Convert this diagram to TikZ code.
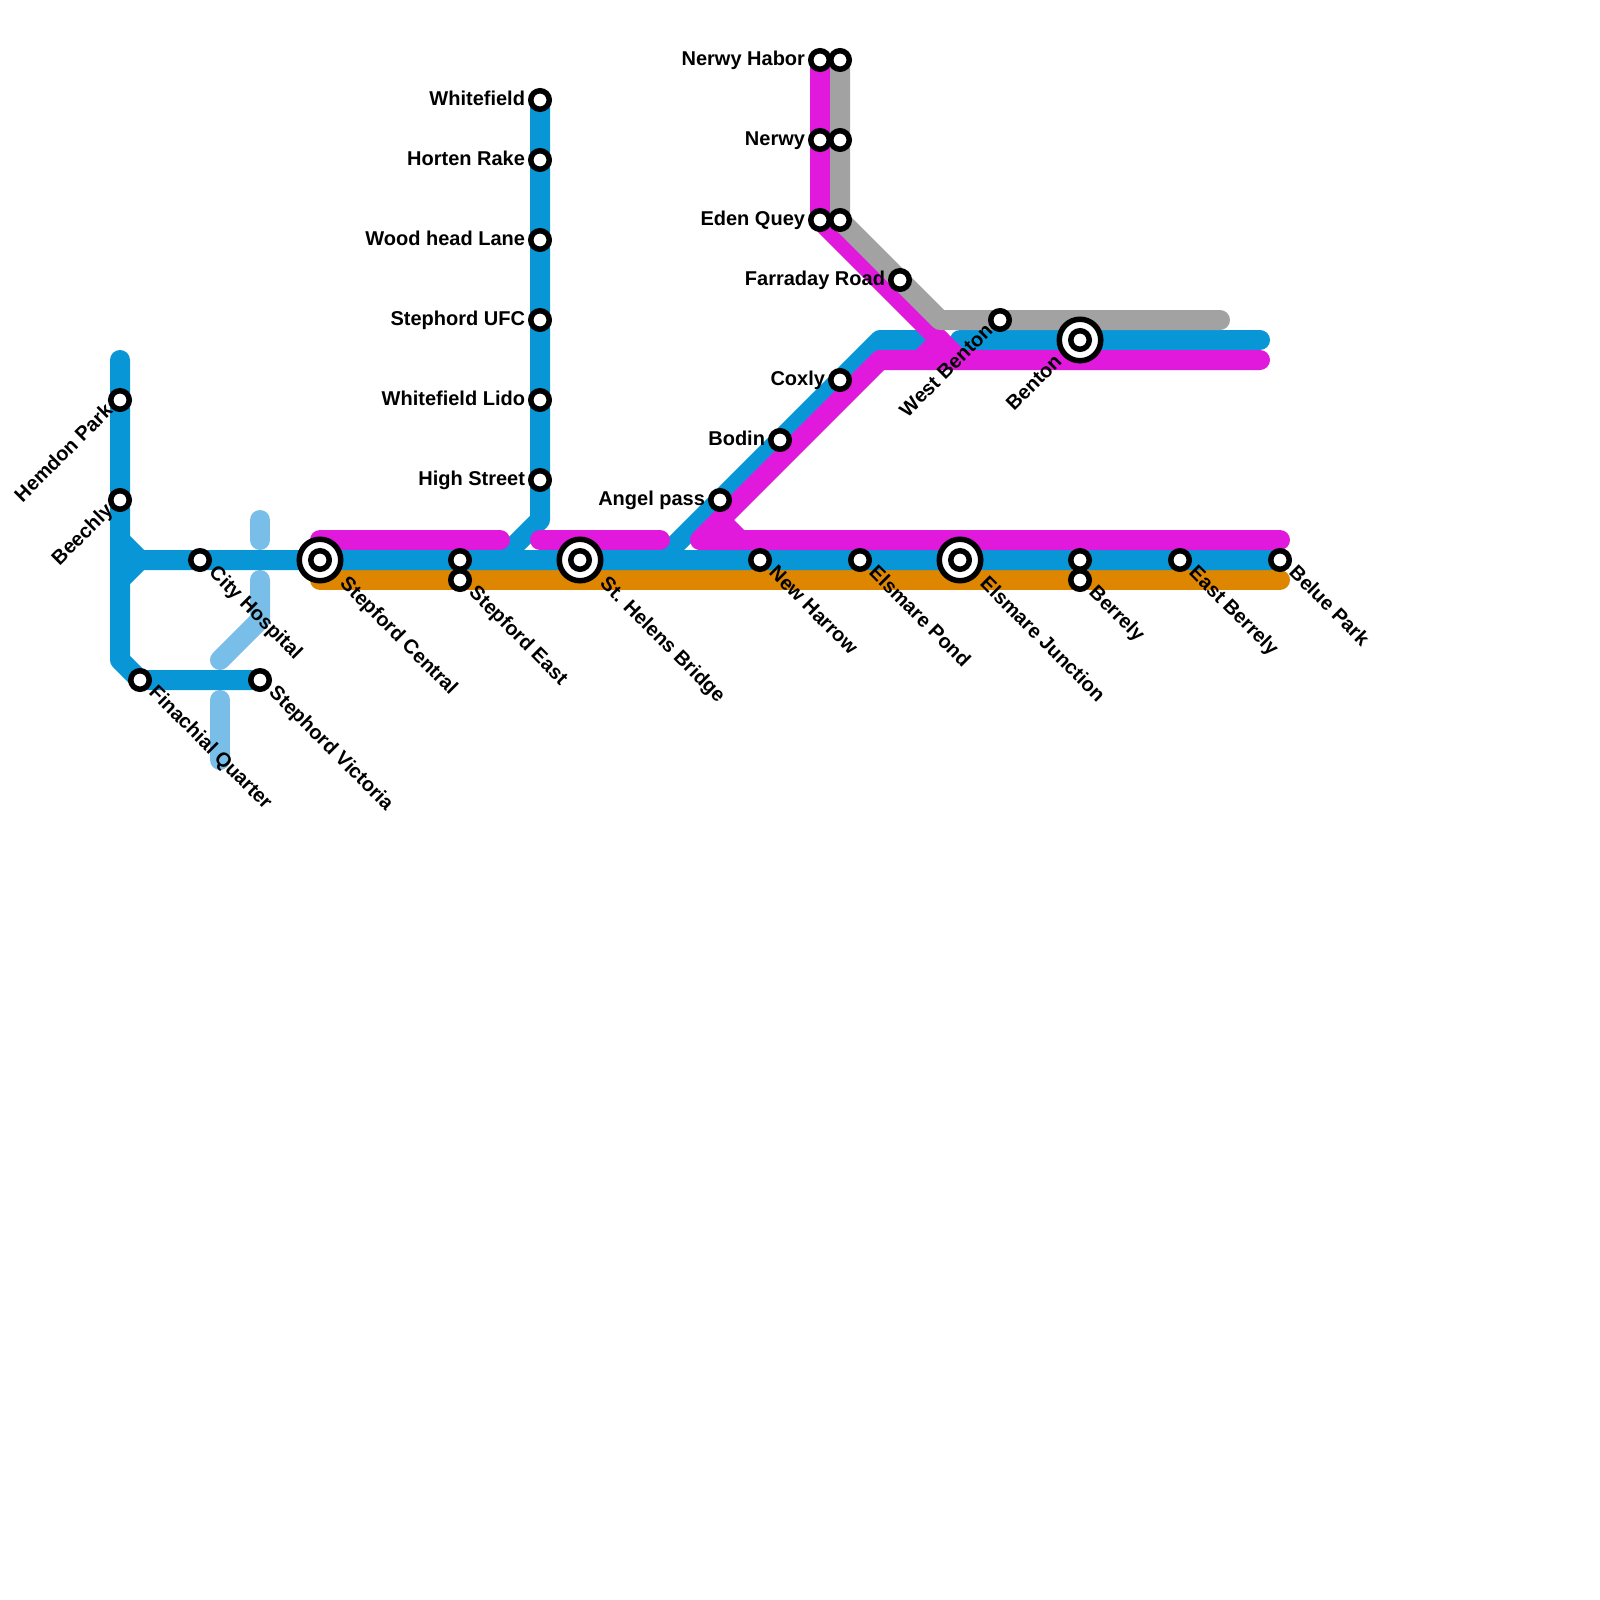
\documentclass[tikz,border=0pt]{standalone}
\usepackage{fontspec}
\setmainfont{Liberation Sans}
\pgfdeclarelayer{lines}
\pgfsetlayers{lines,main}
\definecolor{cblue}{HTML}{0896D7}
\definecolor{cmag}{HTML}{E019DC}
\definecolor{corange}{HTML}{DF8600}
\definecolor{cgrey}{HTML}{A2A2A2}
\definecolor{clight}{HTML}{79BDE9}
\tikzset{
  stat/.style={circle,draw=black,fill=white,line width=5.5pt,minimum size=18.5pt,inner sep=0pt,outer sep=0pt},
  hub/.style={circle,draw=black,fill=white,line width=5.5pt,minimum size=41.5pt,inner sep=0pt,outer sep=0pt},
  metro/.style={line width=20pt,line cap=round,line join=round},
  txt/.style={inner sep=0pt,outer sep=0pt,font=\fontsize{20}{24}\selectfont\bfseries},
  lright/.style={txt,rotate=-45,anchor=mid west},
  lleft/.style={txt,anchor=mid east},
  lup/.style={txt,rotate=45,anchor=mid east}
}
\begin{document}
\begin{tikzpicture}[x=1pt,y=-1pt]
\useasboundingbox (0,0) rectangle (1600,1600);
% stations
\node[stat] (hemdon) at (120,400) {};
\node[stat] (beechly) at (120,500) {};
\node[stat] (city) at (200,560) {};
\node[hub] (centralo) at (320,560) {};
\node[stat] (central) at (320,560) {};
\node[stat] (east1) at (460,560) {};
\node[stat] (east2) at (460,580) {};
\node[hub] (helenso) at (580,560) {};
\node[stat] (helens) at (580,560) {};
\node[stat] (harrow) at (760,560) {};
\node[stat] (pond) at (860,560) {};
\node[hub] (junctiono) at (960,560) {};
\node[stat] (junction) at (960,560) {};
\node[stat] (berrely1) at (1080,560) {};
\node[stat] (berrely2) at (1080,580) {};
\node[stat] (eastb) at (1180,560) {};
\node[stat] (belue) at (1280,560) {};
\node[stat] (fin) at (140,680) {};
\node[stat] (vic) at (260,680) {};
\node[stat] (white) at (540,100) {};
\node[stat] (horten) at (540,160) {};
\node[stat] (wood) at (540,240) {};
\node[stat] (ufc) at (540,320) {};
\node[stat] (lido) at (540,400) {};
\node[stat] (high) at (540,480) {};
\node[stat] (angel) at (720,500) {};
\node[stat] (bodin) at (780,440) {};
\node[stat] (coxly) at (840,380) {};
\node[stat] (habor) at (820,60) {};
\node[stat] (habor2) at (840,60) {};
\node[stat] (nerwy) at (820,140) {};
\node[stat] (nerwy2) at (840,140) {};
\node[stat] (eden) at (820,220) {};
\node[stat] (eden2) at (840,220) {};
\node[stat] (farraday) at (900,280) {};
\node[stat] (wbenton) at (1000,320) {};
\node[hub] (bentono) at (1080,340) {};
\node[stat] (benton) at (1080,340) {};
% bend points
\coordinate (btop) at (120,360);
\coordinate (bs1) at (120,540);
\coordinate (bs2) at (120,580);
\coordinate (bsj) at (140,560);
\coordinate (bbot) at (120,660);
\coordinate (w1) at (540,520);
\coordinate (w2) at (500,560);
\coordinate (d1) at (660,560);
\coordinate (d2) at (880,340);
\coordinate (d3) at (930,340);
\coordinate (d4) at (960,340);
\coordinate (d5) at (1260,340);
\coordinate (m1) at (320,540);
\coordinate (m2) at (500,540);
\coordinate (m3) at (540,540);
\coordinate (m4) at (660,540);
\coordinate (m5) at (700,540);
\coordinate (m6) at (1280,540);
\coordinate (m7) at (880,360);
\coordinate (m8) at (920,360);
\coordinate (m9) at (940,340);
\coordinate (m10) at (960,360);
\coordinate (m11) at (1260,360);
\coordinate (m12) at (720,520);
\coordinate (m13) at (740,540);
\coordinate (g1) at (940,320);
\coordinate (g2) at (1220,320);
\coordinate (o1) at (320,580);
\coordinate (o2) at (1280,580);
\coordinate (l1) at (260,520);
\coordinate (l2) at (260,540);
\coordinate (l3) at (260,580);
\coordinate (l4) at (260,620);
\coordinate (l5) at (220,660);
\coordinate (l6) at (220,700);
\coordinate (l7) at (220,760);
% lines
\begin{pgfonlayer}{lines}
\draw[metro,clight] (l1) -- (l2);
\draw[metro,clight] (l3) -- (l4) -- (l5);
\draw[metro,clight] (l6) -- (l7);
\draw[metro,corange] (o1) -- (o2);
\draw[metro,cblue] (btop) -- (bbot) -- (fin.center) -- (vic.center);
\draw[metro,cblue] (bs1) -- (bsj) -- (central.center) -- (belue.center);
\draw[metro,cblue] (bs2) -- (bsj);
\draw[metro,cblue] (white.center) -- (w1) -- (w2);
\draw[metro,cblue] (d1) -- (d2) -- (d3);
\draw[metro,cblue] (d4) -- (d5);
\draw[metro,cmag] (m1) -- (m2);
\draw[metro,cmag] (m3) -- (m4);
\draw[metro,cmag] (m6) -- (m5) -- (m7) -- (m11);
\draw[metro,cmag] (m8) -- (m9);
\draw[metro,cmag] (m12) -- (m13);
\draw[metro,cmag] (habor.center) -- (eden.center) -- (m10);
\draw[metro,cgrey] (habor2.center) -- (eden2.center) -- (g1) -- (g2);
\end{pgfonlayer}
% labels
\node[lup] (themdon) at ([shift={(-8,10)}]hemdon.center) {Hemdon Park};
\node[lup] (tbeechly) at ([shift={(-8,10)}]beechly.center) {Beechly};
\node[lup] (twbenton) at ([shift={(-8,10)}]wbenton.center) {West Benton};
\node[lup] (tbenton) at ([shift={(-19,21)}]benton.center) {Benton};
\node[lright] (tcity) at ([shift={(10,12)}]city.center) {City Hospital};
\node[lright] (tcentral) at ([shift={(21,23)}]central.center) {Stepford Central};
\node[lright] (teast) at ([shift={(10,12)}]east2.center) {Stepford East};
\node[lright] (thelens) at ([shift={(21,23)}]helens.center) {St. Helens Bridge};
\node[lright] (tharrow) at ([shift={(10,12)}]harrow.center) {New Harrow};
\node[lright] (tpond) at ([shift={(10,12)}]pond.center) {Elsmare Pond};
\node[lright] (tjunction) at ([shift={(21,23)}]junction.center) {Elsmare Junction};
\node[lright] (tberrely) at ([shift={(10,12)}]berrely2.center) {Berrely};
\node[lright] (teastb) at ([shift={(10,12)}]eastb.center) {East Berrely};
\node[lright] (tbelue) at ([shift={(10,12)}]belue.center) {Belue Park};
\node[lright] (tfin) at ([shift={(10,12)}]fin.center) {Finachial Quarter};
\node[lright] (tvic) at ([shift={(10,12)}]vic.center) {Stephord Victoria};
\node[lleft] (twhite) at ([shift={(-15,3)}]white.center) {Whitefield};
\node[lleft] (thorten) at ([shift={(-15,3)}]horten.center) {Horten Rake};
\node[lleft] (twood) at ([shift={(-15,3)}]wood.center) {Wood head Lane};
\node[lleft] (tufc) at ([shift={(-15,3)}]ufc.center) {Stephord UFC};
\node[lleft] (tlido) at ([shift={(-15,3)}]lido.center) {Whitefield Lido};
\node[lleft] (thigh) at ([shift={(-15,3)}]high.center) {High Street};
\node[lleft] (tangel) at ([shift={(-15,3)}]angel.center) {Angel pass};
\node[lleft] (tbodin) at ([shift={(-15,3)}]bodin.center) {Bodin};
\node[lleft] (tcoxly) at ([shift={(-15,3)}]coxly.center) {Coxly};
\node[lleft] (thabor) at ([shift={(-15,3)}]habor.center) {Nerwy Habor};
\node[lleft] (tnerwy) at ([shift={(-15,3)}]nerwy.center) {Nerwy};
\node[lleft] (teden) at ([shift={(-15,3)}]eden.center) {Eden Quey};
\node[lleft] (tfarraday) at ([shift={(-15,3)}]farraday.center) {Farraday Road};
\end{tikzpicture}
\end{document}
